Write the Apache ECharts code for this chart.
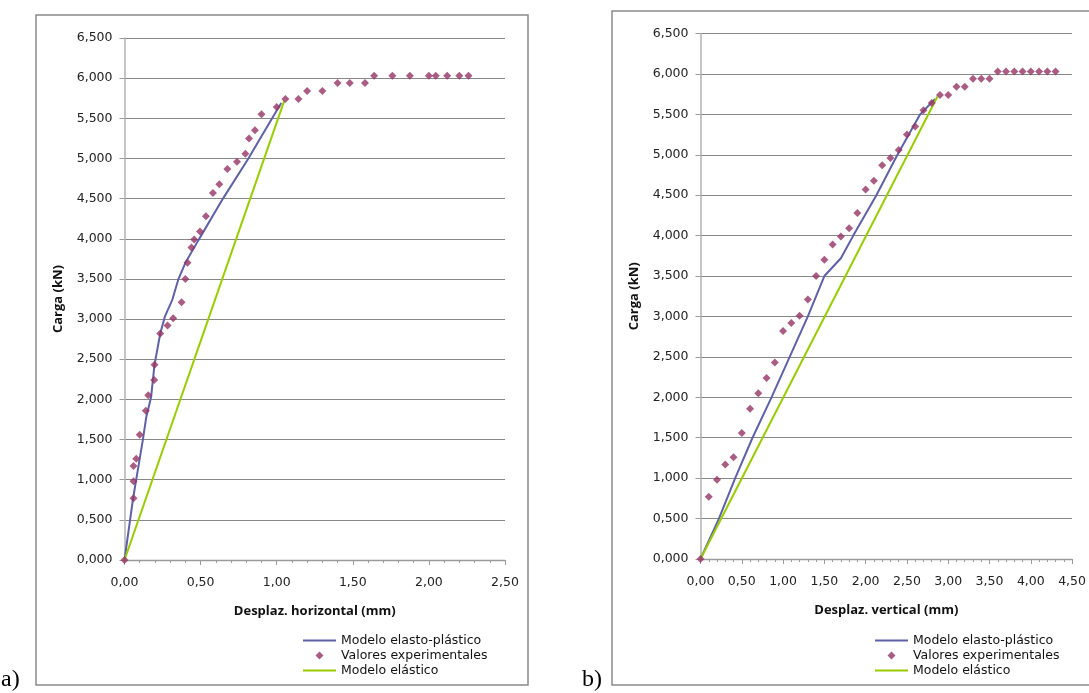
<!DOCTYPE html>
<html><head><meta charset="utf-8">
<script src="https://cdn.jsdelivr.net/npm/echarts@6/dist/echarts.min.js"></script>
<style>html,body{margin:0;padding:0;background:#fff}#c{width:1089px;height:693px}</style>
</head><body><div id="c"></div>
<script>
// Experimental loads (shared by both tests)
const cargaExp = [0,0.77,0.98,1.17,1.26,1.56,1.86,2.05,2.24,2.43,2.82,2.92,3.01,3.21,3.50,3.70,3.89,3.99,4.09,4.28,4.57,4.68,4.87,4.96,5.06,5.25,5.35,5.55,5.64,5.74,5.74,5.84,5.84,5.94,5.94,5.94,6.03,6.03,6.03,6.03,6.03,6.03,6.03,6.03];
// a) horizontal displacement (mm)
const despHorizExp = [0,0.059,0.059,0.059,0.077,0.10,0.14,0.156,0.195,0.197,0.235,0.283,0.32,0.375,0.40,0.414,0.44,0.458,0.496,0.535,0.581,0.623,0.676,0.739,0.794,0.818,0.857,0.90,1.00,1.057,1.143,1.20,1.30,1.40,1.48,1.58,1.64,1.76,1.875,2.00,2.045,2.12,2.20,2.26];
// b) vertical displacement (mm)
const despVertExp = [0,0.10,0.20,0.30,0.40,0.50,0.60,0.70,0.80,0.90,1.00,1.10,1.20,1.30,1.40,1.50,1.60,1.70,1.80,1.90,2.00,2.10,2.20,2.30,2.40,2.50,2.60,2.70,2.80,2.90,3.00,3.10,3.20,3.30,3.40,3.50,3.60,3.70,3.80,3.90,4.00,4.10,4.20,4.30];
// Elasto-plastic model a)
const epHorizX = [0,0.055,0.077,0.12,0.143,0.175,0.197,0.235,0.265,0.314,0.353,0.40,0.485,0.647,0.814,0.97,1.03];
const epHorizY = [0,0.75,1.00,1.49,1.78,2.03,2.43,2.82,3.03,3.24,3.49,3.70,3.98,4.50,5.00,5.50,5.69];
// Elastic model a)
const elHorizX = [0,1.05];
const elHorizY = [0,5.72];
// Elasto-plastic model b)
const epVertX = [0,0.223,0.42,0.63,0.86,1.08,1.30,1.50,1.70,1.85,2.13,2.385,2.66,2.84];
const epVertY = [0,0.5,1.0,1.5,2.0,2.5,3.0,3.5,3.72,4.0,4.5,5.0,5.5,5.69];
// Elastic model b)
const elVertX = [0,2.87];
const elVertY = [0,5.72];

const nEP = 'Modelo elasto-plástico', nEXP = 'Valores experimentales', nEL = 'Modelo elástico';
const cEP = '#5E61A6', cEXP = '#953564', cEL = '#99CC00';
const zip = (a,b) => a.map((v,i)=>[v,b[i]]);
const fmtY = v => v.toFixed(3).replace('.', ',');
const fmtX = v => v.toFixed(2).replace('.', ',');
const FONT = 'DejaVu Sans';
const ICON_LINE = 'path://M0,0H33V2H0Z';
const ICON_DIAMOND = 'path://M0,-1L1,0L0,1L-1,0Z';

function xAx(idx, max, name){
  return {gridIndex: idx, type:'value', min:0, max:max, interval:0.5,
    name:name, nameLocation:'middle', nameGap:45,
    nameTextStyle:{fontFamily:'Open Sans', fontWeight:'bold', fontSize:13, color:'#111'},
    axisLine:{lineStyle:{color:'#9a9a9a', width:1.3}},
    axisTick:{show:true, length:5, lineStyle:{color:'#9a9a9a'}},
    minorTick:{show:true, splitNumber:5, length:3, lineStyle:{color:'#9a9a9a'}},
    splitLine:{show:false},
    axisLabel:{formatter:fmtX, fontFamily:FONT, fontSize:12.5, color:'#222', margin:16}
  };
}
function yAx(idx){
  return {gridIndex: idx, type:'value', min:0, max:6.5, interval:0.5,
    name:'Carga (kN)', nameLocation:'middle', nameGap:60, nameRotate:90,
    nameTextStyle:{fontFamily:'Open Sans', fontWeight:'bold', fontSize:13, color:'#111'},
    axisLine:{show:true, lineStyle:{color:'#b0b0b0', width:1.5}},
    axisTick:{show:true, length:5, lineStyle:{color:'#9a9a9a'}},
    splitLine:{show:true, lineStyle:{color:'#878787', width:1}},
    axisLabel:{formatter:fmtY, fontFamily:FONT, fontSize:12.5, color:'#222', margin:12}
  };
}
function lineS(name, xi, data, color){
  return {name:name, type:'line', xAxisIndex:xi, yAxisIndex:xi, data:data,
    symbol:'none', smooth:false, lineStyle:{color:color, width:2}, itemStyle:{color:color},
    z:2, animation:false};
}
function scatS(xi, data){
  return {name:nEXP, type:'scatter', xAxisIndex:xi, yAxisIndex:xi, data:data,
    symbol:'diamond', symbolSize:8, itemStyle:{color:cEXP}, z:3, animation:false};
}
function legend(left){
  return {orient:'vertical', left:left, top:633, padding:0, itemWidth:33, itemHeight:8, itemGap:0,
    symbolKeepAspect:true, selectedMode:false,
    data:[{name:nEP, icon:ICON_LINE}, {name:nEXP, icon:ICON_DIAMOND}, {name:nEL, icon:ICON_LINE}],
    textStyle:{fontFamily:FONT, fontSize:12.5, color:'#111', lineHeight:15}};
}

const chart = echarts.init(document.getElementById('c'), null, {renderer:'canvas'});
chart.setOption({
  backgroundColor:'#fff',
  animation:false,
  grid:[
    {left:124.5, right:584, top:38, bottom:133},
    {left:700.5, right:12, top:33.5, bottom:134}
  ],
  xAxis:[xAx(0, 2.5, 'Desplaz. horizontal (mm)'), xAx(1, 4.5, 'Desplaz. vertical (mm)')],
  yAxis:[yAx(0), yAx(1)],
  legend:[legend(303), legend(875)],
  graphic:[
    {type:'rect', shape:{x:36, y:15, width:492, height:670}, style:{fill:'none', stroke:'#8a8a8a', lineWidth:1.5}, silent:true, z:-10},
    {type:'rect', shape:{x:612, y:11, width:520, height:674}, style:{fill:'none', stroke:'#8a8a8a', lineWidth:1.5}, silent:true, z:-10},
    {type:'text', left:1, top:668, style:{text:'a)', font:'24px "Liberation Serif"', fill:'#000'}},
    {type:'text', left:582, top:668, style:{text:'b)', font:'24px "Liberation Serif"', fill:'#000'}}
  ],
  series:[
    lineS(nEP, 0, zip(epHorizX, epHorizY), cEP),
    scatS(0, zip(despHorizExp, cargaExp)),
    lineS(nEL, 0, zip(elHorizX, elHorizY), cEL),
    lineS(nEP, 1, zip(epVertX, epVertY), cEP),
    scatS(1, zip(despVertExp, cargaExp)),
    lineS(nEL, 1, zip(elVertX, elVertY), cEL)
  ]
});
</script></body></html>
